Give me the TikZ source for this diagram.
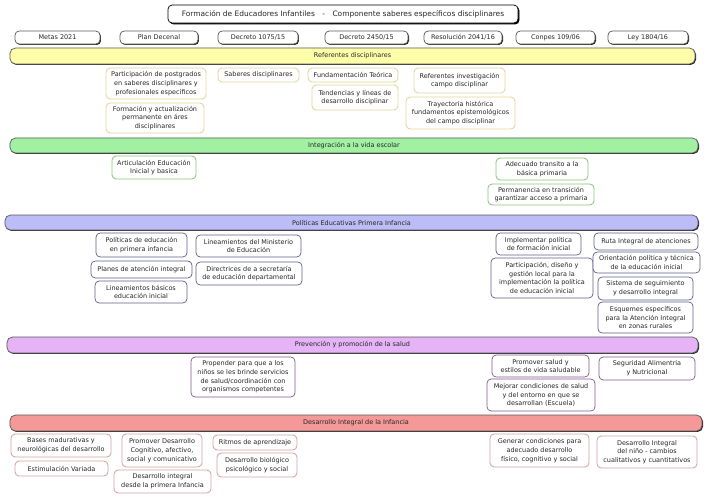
\documentclass[tikz,border=0pt]{standalone}
\usepackage{fontspec}
\setmainfont{DejaVu Sans}
\usepackage{tikz}
\usetikzlibrary{shadows}
\definecolor{cref}{HTML}{FFFFAA}
\definecolor{crefd}{HTML}{E0D596}
\definecolor{cint}{HTML}{A2F0A2}
\definecolor{cintd}{HTML}{8CC47E}
\definecolor{cpol}{HTML}{BCBCF6}
\definecolor{cpold}{HTML}{5E5E86}
\definecolor{cpre}{HTML}{E4B4F6}
\definecolor{cpred}{HTML}{7E5A8E}
\definecolor{cdes}{HTML}{F59898}
\definecolor{cdesd}{HTML}{D2A2A2}
\tikzset{
  box/.style={draw, rounded corners=3pt, align=center, inner sep=1pt, fill=white, text=black!85, font=\fontsize{4.6}{6.2}\selectfont},
  hdr/.style={box, draw=black!65, line width=0.5pt, minimum height=0.325cm, drop shadow={shadow xshift=0.7pt, shadow yshift=-0.7pt, fill=black, opacity=0.85}},
  band/.style={hdr, rounded corners=4pt},
  titl/.style={hdr, draw=black, font=\fontsize{5.3}{6.5}\selectfont, minimum height=0.45cm, drop shadow={shadow xshift=1pt, shadow yshift=-1pt, fill=black, opacity=1}},
  yitem/.style={box, draw=crefd, line width=0.6pt},
  gitem/.style={box, draw=cintd, line width=0.6pt},
  bitem/.style={box, draw=cpold, line width=0.5pt},
  pitem/.style={box, draw=cpred, line width=0.5pt},
  ritem/.style={box, draw=cdesd, line width=0.6pt},
}
\begin{document}
\begin{tikzpicture}[x=0.025cm, y=-0.025cm]
\useasboundingbox (0,0) rectangle (709,499);
\node[titl, minimum width=8.75cm] (title) at (343,14) {Formación de Educadores Infantiles\quad -\quad Componente saberes específicos disciplinares};
% normas
\node[hdr, minimum width=2.125cm] (metas) at (57.5,37.5) {Metas 2021};
\node[hdr, minimum width=1.95cm] (plan) at (159,37.5) {Plan Decenal};
\node[hdr, minimum width=2cm] (d1075) at (258,37.5) {Decreto 1075/15};
\node[hdr, minimum width=2.075cm] (d2450) at (366.5,37.5) {Decreto 2450/15};
\node[hdr, minimum width=1.95cm] (r2041) at (463,37.5) {Resolución 2041/16};
\node[hdr, minimum width=1.975cm] (conpes) at (555.5,37.5) {Conpes 109/06};
\node[hdr, minimum width=2cm] (ley) at (648,37.5) {Ley 1804/16};
% franjas
\node[band, fill=cref, minimum width=17.125cm, minimum height=0.4cm] (bref) at (352.5,56) {Referentes disciplinares};
\node[band, fill=cint, minimum width=17.2cm, minimum height=0.375cm] (bint) at (354,145.5) {Integración a la vida escolar};
\node[band, fill=cpol, minimum width=17.325cm, minimum height=0.375cm] (bpol) at (351.5,222.5) {Políticas Educativas Primera Infancia};
\node[band, fill=cpre, minimum width=17.275cm, minimum height=0.4cm] (bpre) at (352.5,345) {Prevención y promoción de la salud};
\node[band, fill=cdes, minimum width=17.3cm, minimum height=0.4cm] (bdes) at (356,423) {Desarrollo Integral de la Infancia};
% referentes
\node[yitem, minimum width=2.5cm, minimum height=0.775cm] (postg) at (156,83.5) {Participación de postgrados\\en saberes disciplinares y\\profesionales específicos};
\node[yitem, minimum width=2.45cm, minimum height=0.75cm] (actual) at (155,118) {Formación y actualización\\permanente en áres\\disciplinares};
\node[yitem, minimum width=2.025cm, minimum height=0.35cm] (saber) at (258.5,75) {Saberes disciplinares};
\node[yitem, minimum width=2.25cm, minimum height=0.35cm] (fund) at (353,75) {Fundamentación Teórica};
\node[yitem, minimum width=2.15cm, minimum height=0.625cm] (tend) at (355,97.5) {Tendencias y líneas de\\desarrollo disciplinar};
\node[yitem, minimum width=2.275cm, minimum height=0.625cm] (invest) at (459.5,80.5) {Referentes investigación\\campo disciplinar};
\node[yitem, minimum width=2.725cm, minimum height=0.8cm] (trayec) at (460.5,113) {Trayectoria histórica\\fundamentos epistemológicos\\del campo disciplinar};
% integracion
\node[gitem, minimum width=2.1cm, minimum height=0.575cm] (artic) at (154,167.5) {Articulación Educación\\Inicial y basica};
\node[gitem, minimum width=2.3cm, minimum height=0.55cm] (transito) at (542,169) {Adecuado transito a la\\básica primaria};
\node[gitem, minimum width=2.65cm, minimum height=0.525cm] (perman) at (541,194.5) {Permanencia en transición\\garantizar acceso a primaria};
% politicas
\node[bitem, minimum width=2.275cm, minimum height=0.6cm] (polit) at (141.5,245) {Políticas de educación\\en primera infancia};
\node[bitem, minimum width=2.525cm, minimum height=0.425cm] (planes) at (141.5,269.5) {Planes de atención integral};
\node[bitem, minimum width=2.3cm, minimum height=0.55cm] (linbas) at (141,292) {Lineamientos básicos\\educación inicial};
\node[bitem, minimum width=2.625cm, minimum height=0.55cm] (linmin) at (248.5,246) {Lineamientos del Ministerio\\de Educación};
\node[bitem, minimum width=2.65cm, minimum height=0.575cm] (direc) at (249,273.5) {Directrices de a secretaría\\de educación departamental};
\node[bitem, minimum width=2.125cm, minimum height=0.55cm] (implem) at (538.5,244) {Implementar política\\de formación inicial};
\node[bitem, minimum width=2.55cm, minimum height=1cm] (partic) at (542,278) {Participación, diseño y\\gestión local para la\\implementación la política\\de educación inicial};
\node[bitem, minimum width=2.6cm, minimum height=0.425cm] (ruta) at (646,241.5) {Ruta Integral de atenciones};
\node[bitem, minimum width=2.675cm, minimum height=0.525cm] (orient) at (646.5,262.5) {Orientación política y técnica\\de la educación inicial};
\node[bitem, minimum width=2.375cm, minimum height=0.575cm] (sistema) at (645.5,288.5) {Sistema de seguimiento\\y desarrollo integral};
\node[bitem, minimum width=2.375cm, minimum height=0.775cm] (esquem) at (645.5,317.5) {Esquemes específicos\\para la Atención Integral\\en zonas rurales};
% prevencion
\node[pitem, minimum width=2.6cm, minimum height=1cm] (propen) at (243,377) {Propender para que a los\\niños se les brinde servicios\\de salud/coordinación con\\organismos competentes};
\node[pitem, minimum width=2.425cm, minimum height=0.55cm] (promsal) at (540.5,366) {Promover salud y\\estilos de vida saludable};
\node[pitem, minimum width=2.7cm, minimum height=0.8cm] (mejor) at (541,395) {Mejorar condiciones de salud\\y del entorno en que se\\desarrollan (Escuela)};
\node[pitem, minimum width=2.4cm, minimum height=0.575cm] (segur) at (647,368.5) {Seguridad Alimentria\\y Nutricional};
% desarrollo
\node[ritem, minimum width=2.5cm, minimum height=0.575cm] (bases) at (61,445.5) {Bases madurativas y\\neurológicas del desarrollo};
\node[ritem, minimum width=2.325cm, minimum height=0.375cm] (estim) at (61.5,468.5) {Estimulación Variada};
\node[ritem, minimum width=2cm, minimum height=0.825cm] (promdes) at (162,450.5) {Promover Desarrollo\\Cognitivo, afectivo,\\social y comunicativo};
\node[ritem, minimum width=2.425cm, minimum height=0.575cm] (desint) at (162.5,481.5) {Desarrollo integral\\desde la primera Infancia};
\node[ritem, minimum width=2.1cm, minimum height=0.375cm] (ritmos) at (255,442.5) {Ritmos de aprendizaje};
\node[ritem, minimum width=2cm, minimum height=0.6cm] (desbio) at (257,465) {Desarrollo biológico\\psicológico y social};
\node[ritem, minimum width=2.475cm, minimum height=0.825cm] (generar) at (539.5,450.5) {Generar condiciones para\\adecuado desarrollo\\físico, cognitivo y social};
\node[ritem, minimum width=2.5cm, minimum height=0.8cm] (desnino) at (647,452) {Desarrollo Integral\\del niño - cambios\\cualitativos y cuantitativos};
\end{tikzpicture}
\end{document}
